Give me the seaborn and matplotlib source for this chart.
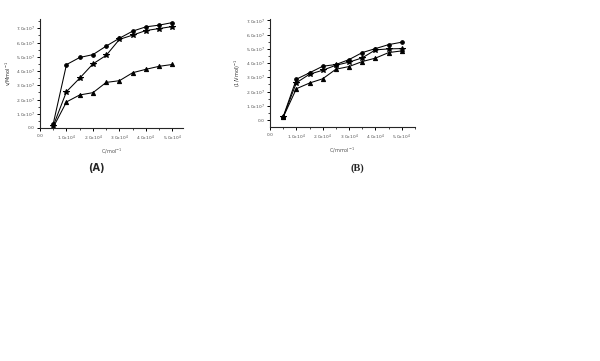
import matplotlib
matplotlib.use("Agg")
import matplotlib.pyplot as plt
import seaborn as sns
import pandas as pd
from matplotlib.ticker import MultipleLocator

sns.set_style("ticks")
plt.rcParams['font.family'] = ['DejaVu Sans']

# ---- data ----
conc = [0.5, 1.0, 1.5, 2.0, 2.5, 3.0, 3.5, 4.0, 4.5, 5.0]

a_circle = [0.3, 4.45, 4.95, 5.15, 5.75, 6.3, 6.8, 7.1, 7.22, 7.4]
a_star = [0.15, 2.55, 3.5, 4.5, 5.1, 6.22, 6.52, 6.84, 6.98, 7.12]
a_tri = [0.05, 1.83, 2.32, 2.48, 3.2, 3.32, 3.88, 4.12, 4.33, 4.46]

b_circle = [0.23, 2.87, 3.32, 3.78, 3.9, 4.25, 4.74, 5.02, 5.3, 5.47]
b_star = [0.2, 2.62, 3.22, 3.5, 3.85, 4.07, 4.37, 4.93, 5.0, 5.02]
b_tri = [0.2, 2.2, 2.6, 2.9, 3.57, 3.76, 4.11, 4.35, 4.74, 4.86]

xticklabels = ["0.0", r"1.0x10$^{4}$", r"2.0x10$^{4}$", r"3.0x10$^{4}$",
               r"4.0x10$^{4}$", r"5.0x10$^{4}$"]
yticklabels = ["0.0", r"1.0x10$^{7}$", r"2.0x10$^{7}$", r"3.0x10$^{7}$",
               r"4.0x10$^{7}$", r"5.0x10$^{7}$", r"6.0x10$^{7}$", r"7.0x10$^{7}$"]

fig = plt.figure(figsize=(6.0, 3.61), dpi=100)
axA = fig.add_axes([40/600, 1-128/361, 143/600, 109/361])
axB = fig.add_axes([270/600, 1-127/361, 145/600, 108/361])

markers = ["o", "*", "^"]
sizes = [2.6, 3.8, 3.0]


def draw(ax, series, xlim, ylim, xlabel, ylabel):
    for vals, m, s in zip(series, markers, sizes):
        df = pd.DataFrame({"x": conc, "y": vals})
        sns.lineplot(data=df, x="x", y="y", ax=ax, color="black",
                     linewidth=0.75, marker=m, markersize=s,
                     markeredgecolor="black", markerfacecolor="black")
    ax.set_xlim(*xlim)
    ax.set_ylim(*ylim)
    ax.set_xticks(range(0, 6))
    ax.set_xticklabels(xticklabels)
    ax.set_yticks(range(0, 8))
    ax.set_yticklabels(yticklabels)
    ax.xaxis.set_minor_locator(MultipleLocator(0.5))
    ax.yaxis.set_minor_locator(MultipleLocator(0.5))
    ax.tick_params(which="major", length=2.5, width=0.7, labelsize=3.2,
                   pad=1.5, colors="black", labelcolor="#555555")
    ax.tick_params(which="minor", length=1.5, width=0.6)
    for sp in ["top", "right"]:
        ax.spines[sp].set_visible(False)
    for sp in ["left", "bottom"]:
        ax.spines[sp].set_linewidth(0.8)
    ax.set_xlabel(xlabel, fontsize=3.6, labelpad=3, color="#555555")
    ax.set_ylabel(ylabel, fontsize=3.6, labelpad=2, color="#333333")


draw(axA, [a_circle, a_star, a_tri], (0, 5.4), (0, 7.65),
     r"C/mol$^{-1}$", r"v/Mmol$^{-1}$")
draw(axB, [b_circle, b_star, b_tri], (0, 5.5), (-0.49, 7.1),
     r"C/mmol$^{-1}$", r"(1/Vmol)$^{-1}$")

fig.text(96/600, 1-168/361, "(A)", ha="center", va="center",
         fontsize=7, fontweight="bold", family="DejaVu Sans")
fig.text(357/600, 1-168/361, "(B)", ha="center", va="center",
         fontsize=7.5, fontweight="bold", family="Liberation Serif")

fig.savefig("out.png", dpi=100)
